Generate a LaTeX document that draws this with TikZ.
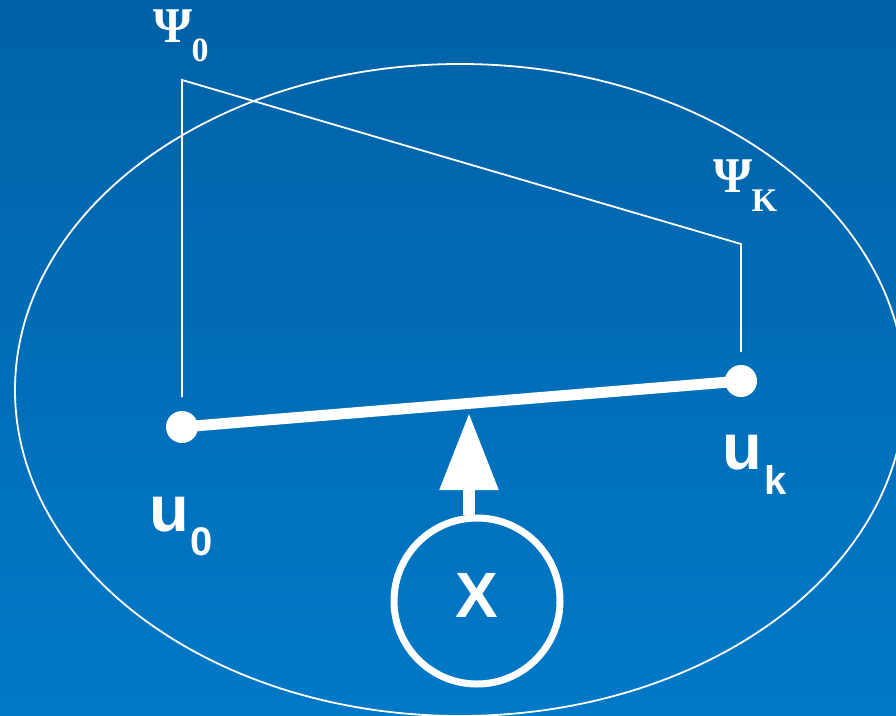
\documentclass[tikz,border=0pt]{standalone}
\usepackage{fontspec}
\setmainfont{Liberation Serif}
\newfontfamily\arialfont{Liberation Sans}
\usetikzlibrary{arrows.meta}
\definecolor{bgtop}{RGB}{0,98,167}
\definecolor{bgbot}{RGB}{0,121,200}
\tikzset{
  thin line/.style={draw=white, line width=1.8pt},
  dotnode/.style={circle, fill=white, inner sep=0pt, minimum size=32pt},
  sanslbl/.style={text=white, inner sep=0pt, font=\arialfont\bfseries},
  seriflbl/.style={text=white, inner sep=0pt, font=\bfseries},
}
\begin{document}
\begin{tikzpicture}[x=1pt,y=-1pt]
\useasboundingbox (0,0) rectangle (896,715);
\clip (0,0) rectangle (896,715);
\shade[top color=bgtop, bottom color=bgbot] (0,0) rectangle (896,715);
% ellipse
\draw[thin line] (460,390) ellipse [x radius=445, y radius=326];
% dots
\node[dotnode] (u0) at (182,427) {};
\node[dotnode] (uk) at (741,381) {};
\draw[white, line width=11pt] (u0.center) -- (uk.center);
% psi profile
\coordinate (p0top) at (182,80);
\coordinate (pktop) at (741,244);
\coordinate (p0bot) at (182,397);
\coordinate (pkbot) at (741,352);
\draw[thin line] (p0bot) -- (p0top) -- (pktop) -- (pkbot);
% circle X
\node[circle, draw=white, line width=7pt, minimum size=166pt, inner sep=0pt] (xc) at (477,601) {};
\node[sanslbl, font=\arialfont\bfseries\fontsize{64}{64}\selectfont] (xl) at (477,595) {X};
\coordinate (atip) at (469,413);
\draw[white, line width=12pt, -{Triangle[length=77pt, width=56pt]}] (xc.north -| atip) -- (atip);
% labels
\node[sanslbl, font=\arialfont\bfseries\fontsize{65}{65}\selectfont, anchor=south] (u0u) at (169.5,532) {u};
\node[sanslbl, font=\arialfont\bfseries\fontsize{40}{40}\selectfont, anchor=south] (u0s) at (201.5,556) {0};
\node[sanslbl, font=\arialfont\bfseries\fontsize{65}{65}\selectfont, anchor=south] (uku) at (742.5,470) {u};
\node[sanslbl, font=\arialfont\bfseries\fontsize{40}{40}\selectfont, anchor=south] (uks) at (775.5,495) {k};
\node[seriflbl, font=\bfseries\fontsize{50}{50}\selectfont, anchor=south] (psi0) at (173,43) {Ψ};
\node[seriflbl, font=\bfseries\fontsize{34}{34}\selectfont, anchor=south] (psi0s) at (200,62) {0};
\node[seriflbl, font=\bfseries\fontsize{50}{50}\selectfont, anchor=south] (psik) at (733,193) {Ψ};
\node[seriflbl, font=\bfseries\fontsize{33}{33}\selectfont, anchor=south] (psiks) at (764.5,212) {K};
\end{tikzpicture}
\end{document}
